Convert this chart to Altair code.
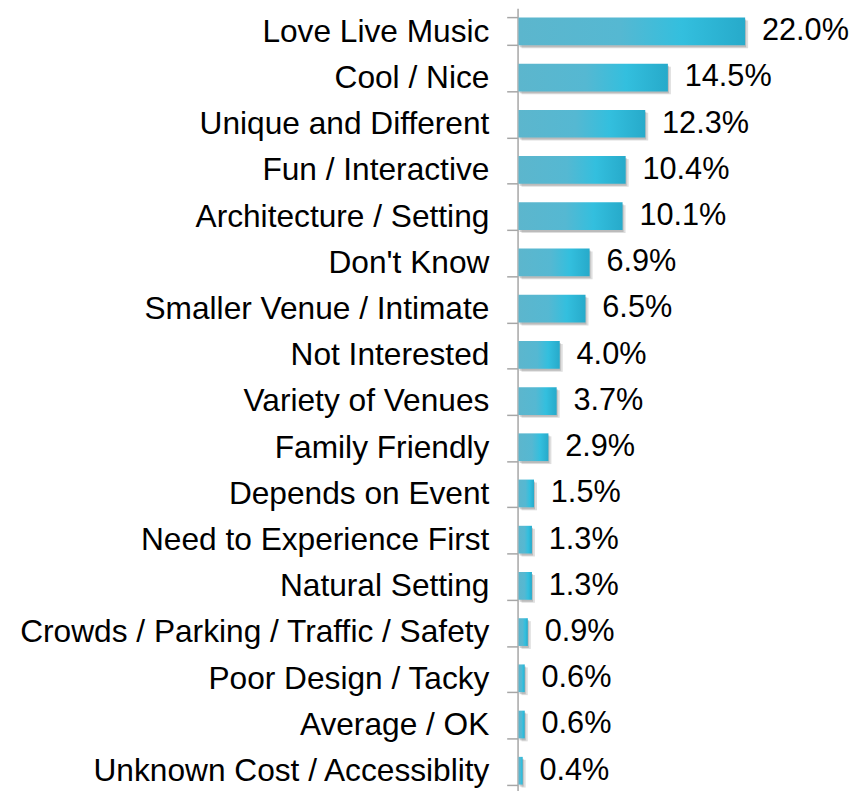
import altair as alt
import pandas as pd

categories = [
    "Love Live Music", "Cool / Nice", "Unique and Different", "Fun / Interactive",
    "Architecture / Setting", "Don't Know", "Smaller Venue / Intimate", "Not Interested",
    "Variety of Venues", "Family Friendly", "Depends on Event", "Need to Experience First",
    "Natural Setting", "Crowds / Parking / Traffic / Safety", "Poor Design / Tacky",
    "Average / OK", "Unknown Cost / Accessiblity",
]
values = [22.0, 14.5, 12.3, 10.4, 10.1, 6.9, 6.5, 4.0, 3.7, 2.9, 1.5, 1.3, 1.3, 0.9, 0.6, 0.6, 0.4]

df = pd.DataFrame({"cat": categories, "val": values})
df["label"] = df["val"].map(lambda v: f"{v:.1f}%")

FONT = "Liberation Sans"

y = alt.Y("cat:N", sort=categories, title=None,
          scale=alt.Scale(paddingInner=0.4, paddingOuter=0.2),
          axis=alt.Axis(labelFont=FONT, labelFontSize=32, labelColor="#000000",
                        labelLimit=0, labelPadding=18, tickSize=11, tickBand="extent",
                        tickColor="#A6A6A6", tickWidth=1.5, domainColor="#A6A6A6",
                        domainWidth=1.5))
x = alt.X("val:Q", title=None, scale=alt.Scale(domain=[0, 22], nice=False, zero=True), axis=None)

base = alt.Chart(df).encode(y=y, x=x)

shadow1 = base.mark_bar(color="#7a7a7a", opacity=0.25, xOffset=4, yOffset=3)
shadow2 = base.mark_bar(color="#7a7a7a", opacity=0.35, xOffset=2, yOffset=2)

gradient = alt.Gradient(
    gradient="linear",
    x1=0, x2=1, y1=0, y2=0,
    stops=[
        alt.GradientStop(color="#5CB6CD", offset=0),
        alt.GradientStop(color="#55B8D2", offset=0.45),
        alt.GradientStop(color="#33BFDE", offset=0.72),
        alt.GradientStop(color="#27AACA", offset=1),
    ],
)
bars = base.mark_bar(color=gradient, xOffset=1)

text = base.mark_text(align="left", baseline="middle", dx=18, font=FONT, fontSize=31,
                      color="#000000").encode(text="label:N")

chart = alt.layer(shadow1, shadow2, bars, text).properties(
    width=229, height=794, padding={"top": -20, "left": 11, "right": 3, "bottom": 0}
).configure_view(stroke=None)

chart.save("out.html", embed_options={"renderer": "svg", "actions": False})
